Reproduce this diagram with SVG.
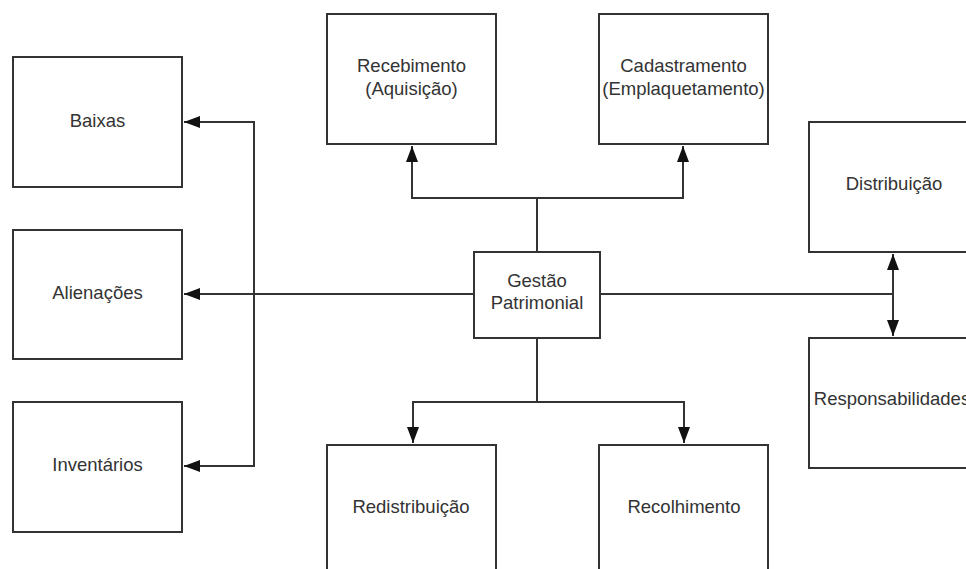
<svg xmlns="http://www.w3.org/2000/svg" width="966" height="569" viewBox="0 0 966 569">
<style>
.box{fill:#ffffff;stroke:#333333;stroke-width:2}
.lbl{font-family:"Liberation Sans",Arial,sans-serif;font-size:18.5px;fill:#333333;text-anchor:middle}
.con{fill:none;stroke:#333333;stroke-width:2}
</style>
<defs>
<marker id="ah" viewBox="0 0 16 12" refX="16" refY="6" markerWidth="16" markerHeight="12" markerUnits="userSpaceOnUse" orient="auto">
<path d="M0,0 L16,6 L0,12 Z" fill="#111111"/>
</marker>
</defs>
<rect width="966" height="569" fill="#ffffff"/>
<g id="connectors">
<path class="con" d="M537,252 V198 H412 V146" marker-end="url(#ah)"/>
<path class="con" d="M537,198 H683 V146" marker-end="url(#ah)"/>
<path class="con" d="M537,338 V402 H413 V443" marker-end="url(#ah)"/>
<path class="con" d="M537,402 H684 V443" marker-end="url(#ah)"/>
<path class="con" d="M474,294 H184" marker-end="url(#ah)"/>
<path class="con" d="M254,294 V122 H184" marker-end="url(#ah)"/>
<path class="con" d="M254,294 V466 H184" marker-end="url(#ah)"/>
<path class="con" d="M600,294 H893 V254" marker-end="url(#ah)"/>
<path class="con" d="M893,294 V336" marker-end="url(#ah)"/>
</g>
<g id="recebimento">
<rect class="box" x="327" y="14" width="169" height="130"/>
<text class="lbl" x="411.5" y="72">Recebimento</text>
<text class="lbl" x="411.5" y="95">(Aquisição)</text>
</g>
<g id="cadastramento">
<rect class="box" x="599" y="14" width="169" height="130"/>
<text class="lbl" x="683.5" y="72">Cadastramento</text>
<text class="lbl" x="683.5" y="95">(Emplaquetamento)</text>
</g>
<g id="gestao">
<rect class="box" x="474" y="252" width="126" height="86"/>
<text class="lbl" x="537" y="287">Gestão</text>
<text class="lbl" x="537" y="309">Patrimonial</text>
</g>
<g id="baixas">
<rect class="box" x="13" y="57" width="169" height="130"/>
<text class="lbl" x="97.5" y="127">Baixas</text>
</g>
<g id="alienacoes">
<rect class="box" x="13" y="230" width="169" height="129"/>
<text class="lbl" x="97.5" y="299">Alienações</text>
</g>
<g id="inventarios">
<rect class="box" x="13" y="402" width="169" height="130"/>
<text class="lbl" x="97.5" y="471">Inventários</text>
</g>
<g id="distribuicao">
<rect class="box" x="809" y="122" width="169" height="130"/>
<text class="lbl" x="894" y="190">Distribuição</text>
</g>
<g id="responsabilidades">
<rect class="box" x="809" y="338" width="169" height="130"/>
<text class="lbl" x="892" y="405">Responsabilidades</text>
</g>
<g id="redistribuicao">
<rect class="box" x="327" y="445" width="169" height="130"/>
<text class="lbl" x="411" y="513">Redistribuição</text>
</g>
<g id="recolhimento">
<rect class="box" x="599" y="445" width="169" height="130"/>
<text class="lbl" x="684" y="513">Recolhimento</text>
</g>
</svg>
